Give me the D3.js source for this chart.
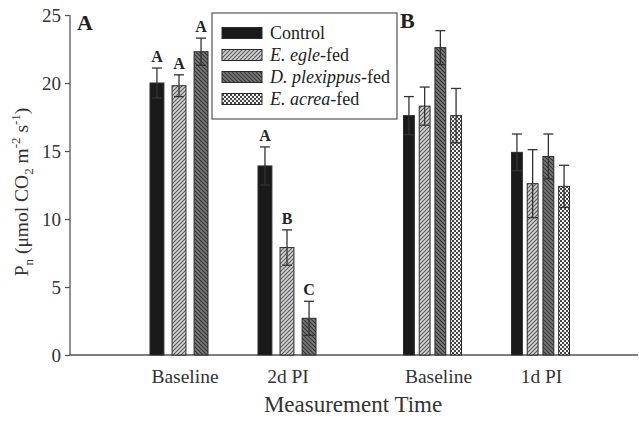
<!DOCTYPE html>
<html><head><meta charset="utf-8">
<script src="https://cdn.jsdelivr.net/npm/d3@7/dist/d3.min.js"></script>
<style>body{margin:0;background:#fff}svg{display:block}</style>
</head><body>
<script>
const series = ["Control","E. egle-fed","D. plexippus-fed","E. acrea-fed"];
const groupsA = ["Baseline","2d PI"];
const groupsB = ["Baseline","1d PI"];
// Panel A (3 series)
const meanA = [[20.0,19.8,22.3],[13.9,7.9,2.7]];
const errA  = [[1.1,0.8,1.0],[1.4,1.3,1.25]];
const lettersA = [["A","A","A"],["A","B","C"]];
// Panel B (4 series)
const meanB = [[17.6,18.3,22.6,17.6],[14.9,12.6,14.6,12.4]];
const errB  = [[1.4,1.4,1.25,2.0],[1.35,2.5,1.65,1.55]];
const yTicks = [0,5,10,15,20,25];

const W=639,H=421;
const svg=d3.select("body").append("svg").attr("width",W).attr("height",H);
const font="'Liberation Serif', 'Times New Roman', 'DejaVu Serif', serif";
const defs=svg.append("defs");
// patterns
const p1=defs.append("pattern").attr("id","egle").attr("patternUnits","userSpaceOnUse").attr("width",4).attr("height",4);
p1.append("rect").attr("width",4).attr("height",4).attr("fill","#d4d4d4");
p1.append("path").attr("d","M-1,1 L1,-1 M0,4 L4,0 M3,5 L5,3").attr("stroke","#5a5a5a").attr("stroke-width",1.1);
const p2=defs.append("pattern").attr("id","dplex").attr("patternUnits","userSpaceOnUse").attr("width",4).attr("height",4);
p2.append("rect").attr("width",4).attr("height",4).attr("fill","#7a7a7a");
p2.append("path").attr("d","M-1,3 L1,5 M0,0 L4,4 M3,-1 L5,1").attr("stroke","#333").attr("stroke-width",1.1);
const p3=defs.append("pattern").attr("id","acrea").attr("patternUnits","userSpaceOnUse").attr("width",4).attr("height",4);
p3.append("rect").attr("width",4).attr("height",4).attr("fill","#f2f2f2");
p3.append("rect").attr("width",2).attr("height",2).attr("fill","#444");
p3.append("rect").attr("x",2).attr("y",2).attr("width",2).attr("height",2).attr("fill","#444");
const fills=["#1a1a1a","url(#egle)","url(#dplex)","url(#acrea)"];

const y=d3.scaleLinear().domain([0,25]).range([355,15]);
const x0=70;

// y axis
const yAxis=svg.append("g").attr("transform",`translate(${x0},0)`)
  .call(d3.axisLeft(y).tickValues(yTicks).tickSize(5).tickPadding(4));
yAxis.select(".domain").attr("stroke","#555").attr("stroke-width",1.3).attr("d","M0,15V355");
yAxis.selectAll(".tick line").attr("stroke","#555").attr("stroke-width",1.3);
yAxis.selectAll(".tick text").attr("font-family",font).attr("font-size",19).attr("fill","#333");

// x axis line
svg.append("line").attr("x1",x0).attr("x2",638).attr("y1",355).attr("y2",355).attr("stroke","#555").attr("stroke-width",1.5);

function panel(groups,means,errs,letters,range,n){
  const gx=d3.scaleBand().domain(groups).range(range).paddingInner(0).paddingOuter(0);
  const inner=d3.scaleBand().domain(d3.range(n)).range([0,58]).paddingInner(n===3?0.37:0.31).paddingOuter(0);
  groups.forEach((g,gi)=>{
    const cx=gx(g)+gx.bandwidth()/2;
    const left=cx-29;
    for(let s=0;s<n;s++){
      const m=means[gi][s], e=errs[gi][s];
      const bx=left+inner(s), bw=inner.bandwidth();
      svg.append("rect").attr("x",bx).attr("y",y(m)).attr("width",bw).attr("height",y(0)-y(m))
        .attr("fill",fills[s]).attr("stroke","#2a2a2a").attr("stroke-width",1);
      const mx=bx+bw/2;
      svg.append("line").attr("x1",mx).attr("x2",mx).attr("y1",y(m+e)).attr("y2",y(m-e)).attr("stroke","#333").attr("stroke-width",1.3);
      svg.append("line").attr("x1",mx-5).attr("x2",mx+5).attr("y1",y(m+e)).attr("y2",y(m+e)).attr("stroke","#333").attr("stroke-width",1.3);
      svg.append("line").attr("x1",mx-5).attr("x2",mx+5).attr("y1",y(m-e)).attr("y2",y(m-e)).attr("stroke","#333").attr("stroke-width",1.3);
      if(letters){
        svg.append("text").attr("x",mx).attr("y",y(m+e)-6).attr("text-anchor","middle")
          .attr("font-family",font).attr("font-weight","bold").attr("font-size",16).attr("fill","#222").text(letters[gi][s]);
      }
    }
    svg.append("text").attr("x",cx+ (gi===0?6:1)).attr("y",383).attr("text-anchor","middle")
      .attr("font-family",font).attr("font-size",19.5).attr("fill","#333").text(g);
  });
}
panel(groupsA,meanA,errA,lettersA,[125,341],3);
panel(groupsB,meanB,errB,null,[378.5,594.5],4);

// panel letters
svg.append("text").attr("x",77).attr("y",30).attr("font-family",font).attr("font-weight","bold").attr("font-size",22).attr("fill","#222").text("A");
svg.append("text").attr("x",400).attr("y",28).attr("font-family",font).attr("font-weight","bold").attr("font-size",22).attr("fill","#222").text("B");

// x title
svg.append("text").attr("x",353).attr("y",412).attr("text-anchor","middle").attr("font-family",font).attr("font-size",23).attr("fill","#333").text("Measurement Time");

// y title
const yt=svg.append("text").attr("transform","translate(28,192) rotate(-90)").attr("text-anchor","middle")
  .attr("font-family",font).attr("font-size",19.5).attr("fill","#333");
yt.append("tspan").text("P");
yt.append("tspan").attr("font-size",13).attr("dy",5).text("n");
yt.append("tspan").attr("dy",-5).text(" (μmol CO");
yt.append("tspan").attr("font-size",13).attr("dy",5).text("2");
yt.append("tspan").attr("dy",-5).text(" m");
yt.append("tspan").attr("font-size",13).attr("dy",-8).text("-2");
yt.append("tspan").attr("dy",8).text(" s");
yt.append("tspan").attr("font-size",13).attr("dy",-8).text("-1");
yt.append("tspan").attr("dy",8).text(")");

// legend
const lg=svg.append("g");
lg.append("rect").attr("x",212).attr("y",13).attr("width",185).attr("height",106).attr("fill","#fff").attr("stroke","#555").attr("stroke-width",1.2);
const labels=[["Control",""],["E. egle","-fed"],["D. plexippus","-fed"],["E. acrea","-fed"]];
series.forEach((s,i)=>{
  const cy=33+i*22;
  lg.append("rect").attr("x",222).attr("y",cy-5.5).attr("width",40).attr("height",11).attr("fill",fills[i]).attr("stroke","#2a2a2a").attr("stroke-width",1);
  const t=lg.append("text").attr("x",270).attr("y",cy+6).attr("font-family",font).attr("font-size",18).attr("fill","#222");
  if(i===0){t.text(labels[i][0]);}
  else{t.append("tspan").attr("font-style","italic").text(labels[i][0]);t.append("tspan").text(labels[i][1]);}
});
</script>
</body></html>
